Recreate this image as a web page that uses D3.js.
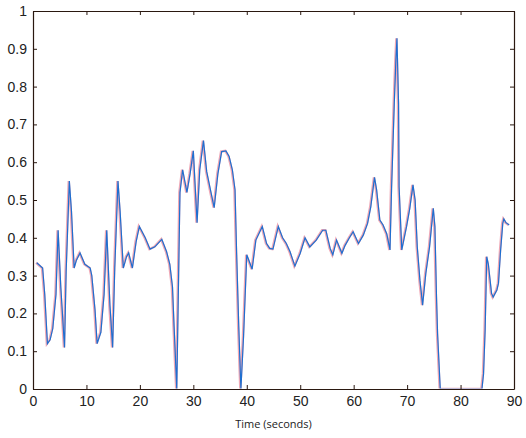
<!DOCTYPE html>
<html>
<head>
<meta charset="utf-8">
<script src="https://cdn.jsdelivr.net/npm/d3@7"></script>
<style>
  body { margin: 0; background: #fff; }
  .axis text { font-family: "Liberation Sans", Arial, sans-serif; font-size: 14px; fill: #222; }
  .axis path, .axis line { stroke: #2a1810; }
  .x-label { font-family: "Open Sans", sans-serif; font-size: 11px; fill: #222; }
</style>
</head>
<body>
<svg width="526" height="438"></svg>
<script>
'use strict';

// values
var timeSec = [0.7, 1.8, 2.2, 2.7, 3.2, 3.7, 4.3, 4.7, 5.2, 5.9, 6.2, 6.8, 7.2, 7.7, 8.1, 8.8, 9.7,
    10.7, 11.0, 11.6, 12.0, 12.7, 13.3, 13.8, 14.4, 14.9, 15.3, 15.9, 16.3, 16.9, 17.5, 17.9, 18.6, 19.3, 19.9,
    21.0, 21.9, 22.8, 24.1, 25.0, 25.6, 26.1, 26.4, 26.9, 27.5, 28.0, 28.8, 29.4,
    30.0, 30.7, 31.2, 31.9, 32.5, 33.3, 33.9, 34.6, 35.3, 36.1, 36.7, 37.3, 37.8, 38.1, 38.5, 38.9, 39.4,
    40.0, 40.4, 41.0, 41.7, 42.9, 43.7, 44.3, 44.9, 45.9, 46.7, 47.4, 48.1, 49.0,
    50.0, 50.9, 51.8, 53.0, 54.2, 54.8, 55.6, 56.1, 56.8, 57.8, 58.4, 59.2,
    59.9, 60.9, 61.8, 62.6, 63.2, 63.9, 64.3, 64.9, 65.5, 66.2, 66.8, 67.1, 67.6, 67.9, 68.1, 68.4, 68.5, 69.0,
    69.9, 70.5, 71.1, 71.5, 71.9, 72.4, 72.9, 73.5, 74.2, 74.9, 75.2, 75.5, 75.7, 76.2,
    80.0, 84.0, 84.3, 84.6, 84.9, 85.2, 85.8, 86.1, 86.8, 87.1, 87.5, 87.9, 88.1, 88.5, 89.1];
var signal = [0.334, 0.32, 0.25, 0.12, 0.13, 0.16, 0.25, 0.42, 0.27, 0.11, 0.31, 0.55, 0.47, 0.32, 0.34, 0.36, 0.33,
    0.32, 0.30, 0.21, 0.12, 0.15, 0.25, 0.42, 0.22, 0.11, 0.32, 0.55, 0.47, 0.32, 0.35, 0.36, 0.32, 0.39, 0.43,
    0.40, 0.37, 0.376, 0.396, 0.363, 0.33, 0.27, 0.165, 0.0, 0.52, 0.58, 0.52, 0.57,
    0.63, 0.44, 0.58, 0.657, 0.575, 0.52, 0.48, 0.57, 0.628, 0.63, 0.615, 0.58, 0.527, 0.36, 0.165, 0.0, 0.14,
    0.355, 0.34, 0.317, 0.394, 0.43, 0.385, 0.372, 0.37, 0.43, 0.40, 0.385, 0.363, 0.325,
    0.359, 0.40, 0.376, 0.394, 0.42, 0.42, 0.372, 0.355, 0.394, 0.359, 0.38, 0.40,
    0.416, 0.385, 0.407, 0.438, 0.482, 0.56, 0.526, 0.447, 0.434, 0.41, 0.368, 0.535, 0.756, 0.87, 0.928, 0.756, 0.535, 0.368,
    0.43, 0.478, 0.54, 0.5, 0.376, 0.288, 0.222, 0.306, 0.376, 0.478, 0.43, 0.244, 0.147, 0.0,
    0.0, 0.0, 0.04, 0.156, 0.35, 0.33, 0.253, 0.243, 0.262, 0.28, 0.368, 0.438, 0.45, 0.44, 0.434];
var xTicks = [0, 10, 20, 30, 40, 50, 60, 70, 80, 90];
var yTicks = [0, 0.1, 0.2, 0.3, 0.4, 0.5, 0.6, 0.7, 0.8, 0.9, 1];
var xTitle = 'Time (seconds)';

var svg = d3.select('svg'),
    plotLeft = 33, plotTop = 11, plotRight = 514, plotBottom = 389;

var x = d3.scaleLinear().domain([0, 90]).range([plotLeft, plotRight]);
var y = d3.scaleLinear().domain([0, 1]).range([plotBottom, plotTop]);

var points = timeSec.map(function(t, i) { return {t: t, v: signal[i]}; });

var line = d3.line()
    .x(function(d) { return x(d.t); })
    .y(function(d) { return y(d.v); });

// clip traces to the axes box, like matlab does
svg.append('clipPath').attr('id', 'plot-clip')
    .append('rect')
    .attr('x', plotLeft)
    .attr('y', plotTop)
    .attr('width', plotRight - plotLeft)
    .attr('height', plotBottom - plotTop - 0.5);
var traces = svg.append('g').attr('clip-path', 'url(#plot-clip)');

// red trace sits under the blue one
traces.append('path')
    .datum(points)
    .attr('d', line)
    .attr('fill', 'none')
    .attr('stroke', '#e0607a')
    .attr('stroke-opacity', 0.55)
    .attr('stroke-width', 2.4)
    .attr('transform', 'translate(-0.6,0)');
traces.append('path')
    .datum(points)
    .attr('d', line)
    .attr('fill', 'none')
    .attr('stroke', '#1e6fd0')
    .attr('stroke-width', 1.2);

// box with inward ticks on all sides
svg.append('g').attr('class', 'axis')
    .attr('transform', 'translate(0,' + plotBottom + ')')
    .call(d3.axisBottom(x).tickValues(xTicks).tickSizeInner(-4).tickSizeOuter(0).tickPadding(7));
svg.append('g').attr('class', 'axis')
    .attr('transform', 'translate(0,' + plotTop + ')')
    .call(d3.axisTop(x).tickValues(xTicks).tickSizeInner(-4).tickSizeOuter(0).tickFormat(''));
svg.append('g').attr('class', 'axis')
    .attr('transform', 'translate(' + plotLeft + ',0)')
    .call(d3.axisLeft(y).tickValues(yTicks).tickSizeInner(-4).tickSizeOuter(0).tickPadding(6)
        .tickFormat(d3.format('~g')));
svg.append('g').attr('class', 'axis')
    .attr('transform', 'translate(' + plotRight + ',0)')
    .call(d3.axisRight(y).tickValues(yTicks).tickSizeInner(-4).tickSizeOuter(0).tickFormat(''));

svg.selectAll('.axis .domain').attr('stroke-width', 1.2);

svg.append('text')
    .attr('class', 'x-label')
    .attr('x', (plotLeft + plotRight) / 2)
    .attr('y', 428)
    .attr('text-anchor', 'middle')
    .text(xTitle);
</script>
</body>
</html>
